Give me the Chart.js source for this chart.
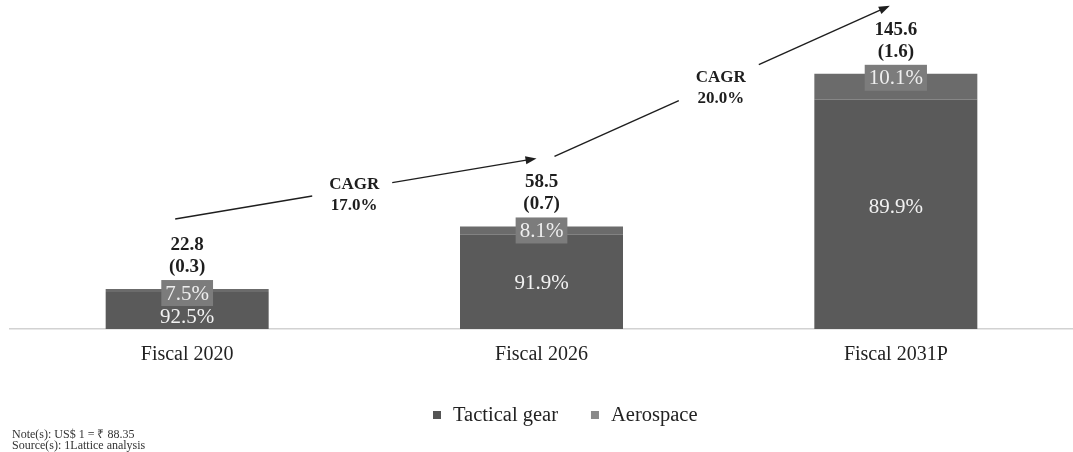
<!DOCTYPE html>
<html>
<head>
<meta charset="utf-8">
<script src="https://cdn.jsdelivr.net/npm/chart.js@4.4.1/dist/chart.umd.min.js"></script>
<style>
  html, body { margin: 0; padding: 0; background: #ffffff; }
  #wrap { width: 1073px; height: 452px; position: relative; }
</style>
</head>
<body>
<div id="wrap"><canvas id="chart" width="1073" height="452"></canvas></div>
<script>
// Market size, ₹ billion, split by segment
const categories = ['Fiscal 2020', 'Fiscal 2026', 'Fiscal 2031P'];
const seriesNames = ['Tactical gear', 'Aerospace'];
const tacticalValues = [21.1, 53.8, 130.9];
const aerospaceValues = [1.7, 4.7, 14.7];
const totalInr = [22.8, 58.5, 145.6];
const totalUsd = ['(0.3)', '(0.7)', '(1.6)'];
const tacticalShare = ['92.5%', '91.9%', '89.9%'];
const aerospaceShare = ['7.5%', '8.1%', '10.1%'];
const cagrLabels = ['17.0%', '20.0%'];
const noteLines = ['Note(s): US$ 1 = \u20B9 88.35', 'Source(s): 1Lattice analysis'];

const SERIF = '"Liberation Serif", "Times New Roman", serif';
const colTactical = '#5a5a5a';
const colAerospace = '#6b6b6b';
const colAeroBox = '#7c7c7c';
const ink = '#1e1e1e';

function arrow(ctx, x0, y0, x1, y1) {
  const ang = Math.atan2(y1 - y0, x1 - x0);
  const len = 11, half = 4;
  ctx.beginPath();
  ctx.moveTo(x0, y0);
  ctx.lineTo(x1 - Math.cos(ang) * len * 0.8, y1 - Math.sin(ang) * len * 0.8);
  ctx.stroke();
  ctx.beginPath();
  ctx.moveTo(x1, y1);
  ctx.lineTo(x1 - Math.cos(ang) * len - Math.sin(ang) * half, y1 - Math.sin(ang) * len + Math.cos(ang) * half);
  ctx.lineTo(x1 - Math.cos(ang) * len + Math.sin(ang) * half, y1 - Math.sin(ang) * len - Math.cos(ang) * half);
  ctx.closePath();
  ctx.fill();
}

const labelsPlugin = {
  id: 'barLabels',
  afterDatasetsDraw(chart) {
    const ctx = chart.ctx;
    const tac = chart.getDatasetMeta(0).data;
    const aer = chart.getDatasetMeta(1).data;
    const totalY = [];
    const cx = [];
    ctx.save();
    ctx.textAlign = 'center';
    ctx.textBaseline = 'middle';
    for (let i = 0; i < categories.length; i++) {
      const t = tac[i], a = aer[i];
      cx.push(a.x);
      // aerospace share on a tab at the top of the stack
      ctx.font = '21px ' + SERIF;
      const w = ctx.measureText(aerospaceShare[i]).width + 8;
      const h = 26;
      const boxC = a.y + 4;
      const boxTop = boxC - h / 2;
      ctx.fillStyle = colAeroBox;
      ctx.fillRect(a.x - w / 2, boxTop, w, h);
      ctx.fillStyle = '#eeeeee';
      ctx.fillText(aerospaceShare[i], a.x, boxC + 1);
      // share of tactical gear inside the bar, kept clear of the tab
      ctx.fillStyle = '#f2f2f2';
      const ty = Math.max((a.y + t.base) / 2 + 6, boxTop + h + 11);
      ctx.fillText(tacticalShare[i], t.x, ty);
      // totals: ₹ billion and US$ billion
      ctx.font = 'bold 19px ' + SERIF;
      ctx.fillStyle = ink;
      ctx.fillText(totalUsd[i], a.x, boxTop - 13);
      ctx.fillText(totalInr[i].toFixed(1), a.x, boxTop - 35);
      totalY.push(boxTop - 35);
    }
    // CAGR arrows between consecutive bars
    const startOff = [-12, 13];
    const endOff = [-5, -6];
    ctx.strokeStyle = ink;
    ctx.fillStyle = ink;
    ctx.lineWidth = 1.4;
    for (let k = 0; k < cagrLabels.length; k++) {
      const x0 = cx[k] + startOff[k], y0 = totalY[k] - 26;
      const x1 = cx[k + 1] + endOff[k], y1 = totalY[k + 1] - 24;
      const mx = x0 + (x1 - x0) * 0.49;
      const my = y0 + (y1 - y0) * 0.49;
      const gap = 40;
      const f0 = (mx - gap - x0) / (x1 - x0);
      const f1 = (mx + gap - x0) / (x1 - x0);
      ctx.beginPath();
      ctx.moveTo(x0, y0);
      ctx.lineTo(x0 + (x1 - x0) * f0, y0 + (y1 - y0) * f0);
      ctx.stroke();
      arrow(ctx, x0 + (x1 - x0) * f1, y0 + (y1 - y0) * f1, x1, y1);
      ctx.font = 'bold 17px ' + SERIF;
      ctx.fillText('CAGR', mx + 2, my - 5);
      ctx.fillText(cagrLabels[k], mx + 2, my + 16);
    }
    ctx.restore();
  },
  afterDraw(chart) {
    const ctx = chart.ctx;
    ctx.save();
    // legend
    ctx.textBaseline = 'middle';
    ctx.textAlign = 'left';
    ctx.font = '20.5px ' + SERIF;
    const ly = 415;
    let x = 433;
    const swatch = ['#555555', '#8a8a8a'];
    chart.data.datasets.forEach((ds, i) => {
      ctx.fillStyle = swatch[i];
      ctx.fillRect(x, ly - 4, 8, 8);
      x += 8 + 12;
      ctx.fillStyle = '#222';
      ctx.fillText(ds.label, x, ly + 1);
      x += ctx.measureText(ds.label).width + 33;
    });
    // notes
    ctx.font = '12px ' + SERIF;
    ctx.fillStyle = '#333';
    ctx.fillText(noteLines[0], 12, 435);
    ctx.fillText(noteLines[1], 12, 446);
    ctx.restore();
  }
};

new Chart(document.getElementById('chart'), {
  type: 'bar',
  data: {
    labels: categories,
    datasets: [
      { label: seriesNames[0], data: tacticalValues, backgroundColor: colTactical, stack: 'mkt',
        barPercentage: 0.46, categoryPercentage: 1 },
      { label: seriesNames[1], data: aerospaceValues, backgroundColor: colAerospace, stack: 'mkt',
        barPercentage: 0.46, categoryPercentage: 1 }
    ]
  },
  options: {
    responsive: false,
    animation: false,
    layout: { padding: { left: 10, right: 0, top: 10, bottom: 71 } },
    scales: {
      x: {
        stacked: true,
        grid: { display: false, drawTicks: false },
        border: { display: true, color: '#d2d2d2', width: 1.5 },
        ticks: { font: { family: SERIF, size: 20 }, color: '#222', padding: 14 }
      },
      y: { stacked: true, display: false, min: 0, max: 182 }
    },
    plugins: {
      legend: { display: false },
      tooltip: { enabled: false }
    }
  },
  plugins: [labelsPlugin]
});
</script>
</body>
</html>
